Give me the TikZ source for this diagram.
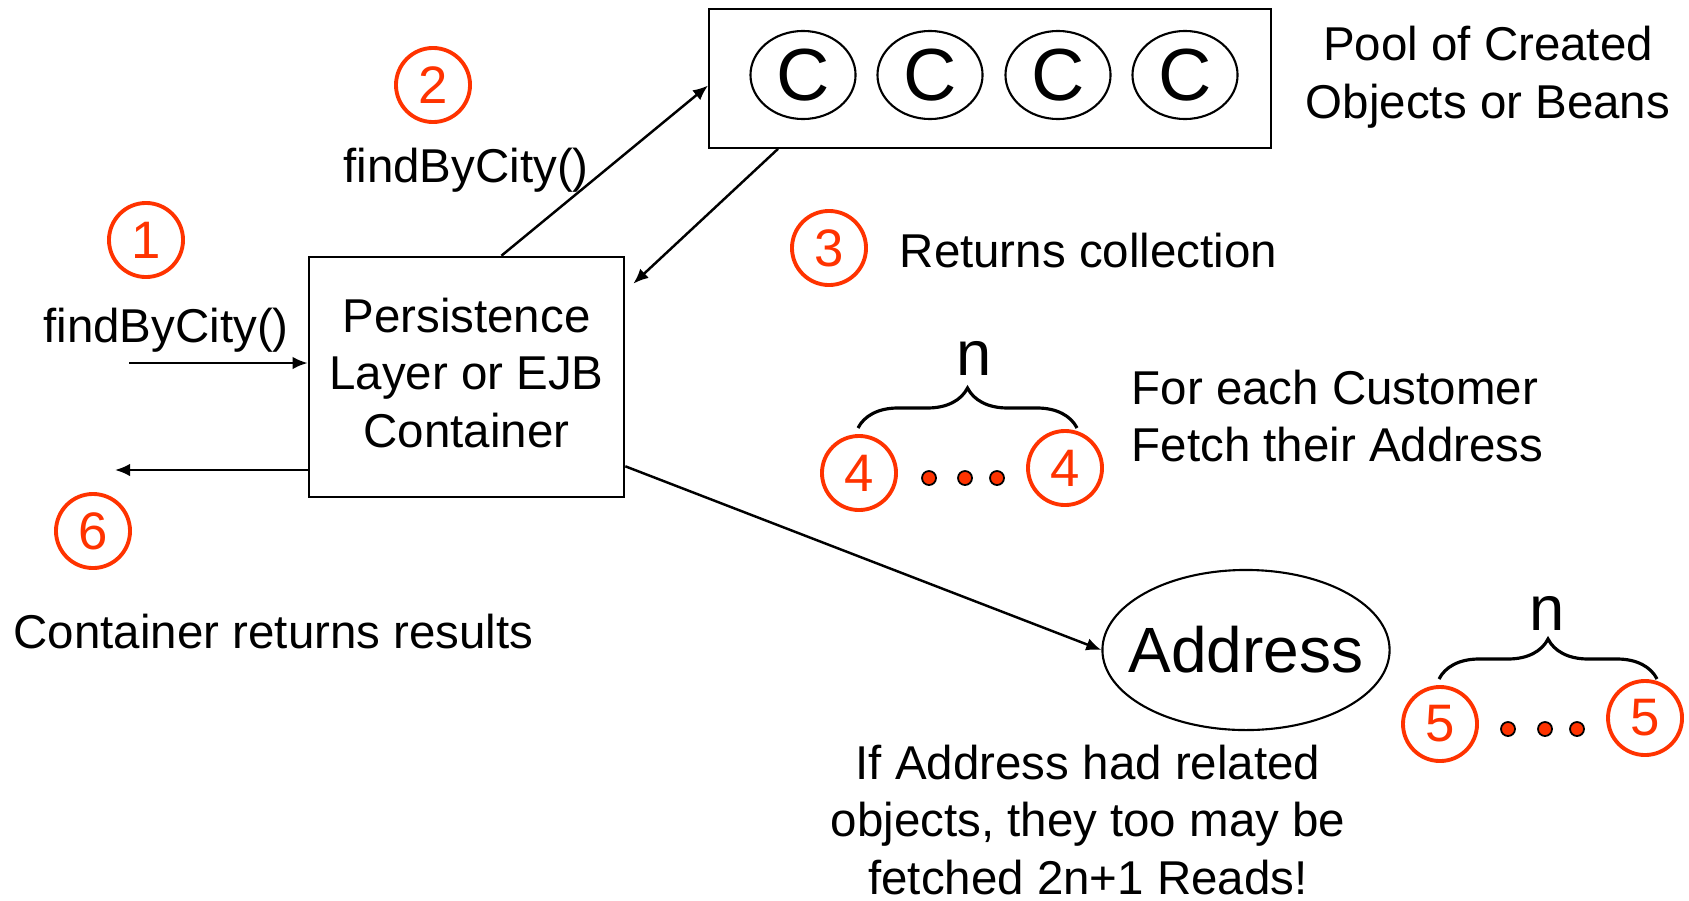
\documentclass[tikz,border=0pt]{standalone}
\usepackage{fontspec}
\setmainfont{Liberation Sans}
\usetikzlibrary{arrows.meta,calc,shapes.geometric,decorations.pathreplacing}
\definecolor{stepred}{HTML}{FF3300}
\tikzset{
%Define standard arrow tip
>={Latex[length=4.3pt,width=3.6pt]},
%Define styles for boxes, markers and labels
txt/.style={inner sep=0pt, font=\fontsize{13.5}{16.4}\selectfont},
container/.style={draw, line width=0.7pt, minimum width=3.15cm, minimum height=2.4cm},
poolbox/.style={draw, line width=0.45pt, minimum width=5.62cm, minimum height=1.39cm},
bean/.style={ellipse, draw, line width=0.6pt, minimum width=1.05cm, minimum height=0.88cm, inner sep=0pt, font=\fontsize{21}{21}\selectfont},
entity/.style={ellipse, draw, line width=0.6pt, minimum width=2.87cm, minimum height=1.6cm, inner ysep=0pt, inner xsep=-4.6pt, font=\fontsize{18.2}{18}\selectfont},
stepnum/.style={circle, draw=stepred, text=stepred, line width=1.1pt, minimum size=0.74cm, inner sep=0pt, font=\fontsize{15}{15}\selectfont},
reddot/.style={circle, draw=black, fill=stepred, line width=0.5pt, minimum size=0.14cm, inner sep=0pt},
nbrace/.style={decorate, decoration={brace, amplitude=0.4cm}, line width=0.9pt},
connection/.style={->, line width=0.7pt},
}
\begin{document}
\begin{tikzpicture}[x=0.01cm, y=-0.01cm]
    \useasboundingbox (0,0) rectangle (1689,900);
    % Container and pool of beans
    \node[container] (box) at (466.5,377) {};
    \node[txt, align=center] (boxtext) at ($(box.center)+(0,-4)$) {Persistence\\Layer or EJB\\Container};
    \node[poolbox] (pool) at (990,78.5) {};
    \node[bean] (c1) at (803,75) {C};
    \node[bean] (c2) at (930,75) {C};
    \node[bean] (c3) at (1058,75) {C};
    \node[bean] (c4) at (1185,75) {C};
    \node[txt, align=center] (poolnote) at (1488,77) {Pool of Created\\Objects or Beans};
    \node[entity] (addr) at (1246,650) {Address};

    % Step markers
    \node[stepnum] (s1) at (146,240) {1};
    \node[stepnum] (s2) at (433,85) {2};
    \node[stepnum] (s3) at (829,248) {3};
    \node[stepnum] (s6) at (93,531) {6};

    % Labels
    \node[txt, anchor=base] (call1) at (166,342) {findByCity()};
    \node[txt, anchor=base] (call2) at (466,182) {findByCity()};
    \node[txt, anchor=west] (ret) at (899,251) {Returns collection};
    \node[txt, anchor=west, align=left] (each) at (1131,416) {For each Customer\\Fetch their Address};
    \node[txt, anchor=west] (result) at (13,632) {Container returns results};
    \node[txt, align=center] (note) at (1088,820) {If Address had related\\objects, they too may be\\fetched 2n+1 Reads!};

    % n customer reads
    \node[stepnum] (f4a) at (859,473) {4};
    \node[stepnum] (f4b) at (1065,468) {4};
    \node[reddot] (d4a) at (929,478) {};
    \node[reddot] (d4b) at (965,478) {};
    \node[reddot] (d4c) at (997,478) {};
    % n address reads
    \node[stepnum] (f5a) at (1440,724) {5};
    \node[stepnum] (f5b) at (1645,718) {5};
    \node[reddot] (d5a) at (1508,729) {};
    \node[reddot] (d5b) at (1545,729) {};
    \node[reddot] (d5c) at (1577,729) {};

    % Braces
    \path
    coordinate (b4s) at (858,428)
    coordinate (b4e) at (1077,428)
    coordinate (b5s) at (1439,679)
    coordinate (b5e) at (1657,679);
    \draw[nbrace] (b4s) -- (b4e);
    \draw[nbrace] (b5s) -- (b5e);
    \node[txt, font=\fontsize{18}{18}\selectfont] (n4) at (974,358) {n};
    \node[txt, font=\fontsize{18}{18}\selectfont] (n5) at (1547,613) {n};

    % Connections
    \path
    coordinate (callin) at (129,363)
    coordinate (callout) at (115,470);
    \draw[connection] (callin) -- (callin -| box.west);
    \draw[connection] (callout -| box.west) -- (callout);
    \draw[connection] ($(box.north west)!0.61!(box.north east)$) -- ($(pool.north west)!0.55!(pool.south west)$);
    \draw[connection] ($(pool.south west)+(70,0)$) -- ($(box.north east)+(8,28)$);
    \draw[connection] ($(box.south east)+(0,-32)$) -- (addr.west);
\end{tikzpicture}
\end{document}
